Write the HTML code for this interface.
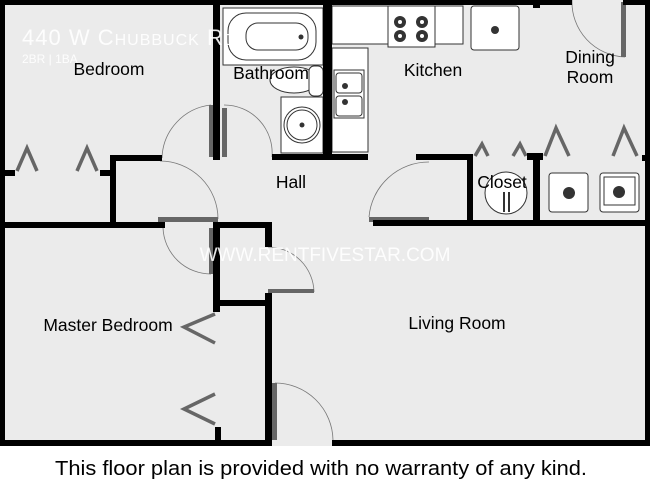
<!DOCTYPE html>
<html><head><meta charset="utf-8"><style>
html,body{margin:0;padding:0;background:#fff;}
svg{display:block;}
text{font-family:"Liberation Sans",Arial,sans-serif;}
</style></head><body>
<svg width="650" height="498" viewBox="0 0 650 498" xmlns="http://www.w3.org/2000/svg">
<rect x="0" y="0" width="650" height="446" fill="#ebebeb"/>
<rect x="0" y="446" width="650" height="52" fill="#fff"/>
<g stroke="#333" stroke-width="1" fill="#fff">
 <rect x="223" y="8" width="100" height="57"/>
 <rect x="228" y="13" width="88" height="47" rx="18"/>
 <rect x="246" y="23" width="62" height="27" rx="12"/>
 <ellipse cx="294" cy="80" rx="24" ry="13"/>
 <rect x="309" y="66" width="14" height="30" rx="5"/>
 <rect x="281" y="97" width="42" height="56"/>
 <circle cx="302" cy="125" r="18"/>
 <circle cx="302" cy="125" r="15"/>
 <rect x="332" y="6" width="131" height="38"/>
 <rect x="388" y="6" width="47" height="41"/>
 <rect x="471" y="6" width="48" height="44" rx="3"/>
 <rect x="332" y="48" width="36" height="104"/>
 <rect x="334" y="70" width="30" height="48"/>
 <rect x="336" y="73" width="26" height="20" rx="3"/>
 <rect x="336" y="96" width="26" height="20" rx="3"/>
 <rect x="549" y="173" width="39" height="39" rx="3"/>
 <rect x="600" y="173" width="39" height="39" rx="3"/>
 <rect x="604" y="177" width="31" height="28"/>
 <circle cx="506" cy="193" r="21"/>
</g>
<g fill="#333">
 <circle cx="400" cy="22" r="6"/><circle cx="422" cy="22" r="6"/>
 <circle cx="400" cy="36" r="6"/><circle cx="422" cy="36" r="6"/>
 <circle cx="495" cy="30" r="4"/>
 <circle cx="569" cy="193" r="6"/><circle cx="619" cy="192" r="6"/>
 <circle cx="345" cy="86" r="3"/><circle cx="345" cy="102" r="3"/>
 <circle cx="301" cy="37" r="2.5"/><circle cx="302" cy="125" r="2.5"/>
 <rect x="503" y="192" width="2" height="20"/><rect x="508" y="192" width="2" height="20"/>
</g>
<g fill="#fff"><circle cx="400" cy="22" r="2"/><circle cx="422" cy="22" r="2"/><circle cx="400" cy="36" r="2"/><circle cx="422" cy="36" r="2"/></g>
<g fill="none" stroke="#777" stroke-width="0.8">
 <path d="M162 158 A55 55 0 0 1 211 105"/>
 <path d="M224 105 A48 48 0 0 1 272 157"/>
 <path d="M218 219 A58 58 0 0 0 160 161"/>
 <path d="M163 228 A48 48 0 0 0 211 274"/>
 <path d="M314 292 A46 46 0 0 0 268 247"/>
 <path d="M333 440 A58 58 0 0 0 275 383"/>
 <path d="M369 217 A60 60 0 0 1 429 162"/>
 <path d="M572 0 A55 55 0 0 0 625 57"/>
</g>
<g fill="#666">
 <rect x="209" y="105" width="5" height="52"/>
 <rect x="222" y="108" width="5" height="49"/>
 <rect x="158" y="217" width="60" height="5"/>
 <rect x="209" y="228" width="5" height="46"/>
 <rect x="268" y="289" width="46" height="4"/>
 <rect x="272" y="383" width="5" height="57"/>
 <rect x="369" y="217" width="60" height="5"/>
 <rect x="621" y="2" width="5" height="55"/>
</g>
<g stroke="#666" stroke-width="3.5" fill="none">
 <path d="M17 171 L27 148 L37 171"/>
 <path d="M77 171 L87 148 L97 171"/>
 <path d="M475 156 L482 144 L488 156"/>
 <path d="M513 156 L520 144 L526 156"/>
 <path d="M545 156 L556 128 L569 156"/>
 <path d="M613 156 L624 128 L637 156"/>
 <path d="M215 314 L184 327 L215 343"/>
 <path d="M215 394 L184 409 L215 424"/>
</g>
<g fill="#000">
 <rect x="0" y="0" width="572" height="5"/>
 <rect x="623" y="0" width="27" height="5"/>
 <rect x="533" y="0" width="7" height="8"/>
 <rect x="0" y="0" width="5" height="446"/>
 <rect x="645" y="0" width="5" height="446"/>
 <rect x="213" y="0" width="7" height="160"/>
 <rect x="323" y="0" width="9" height="157"/>
 <rect x="0" y="170" width="15" height="6"/>
 <rect x="100" y="170" width="16" height="6"/>
 <rect x="110" y="155" width="52" height="6"/>
 <rect x="110" y="155" width="6" height="72"/>
 <rect x="272" y="154" width="96" height="6"/>
 <rect x="0" y="222" width="165" height="6"/>
 <rect x="213" y="222" width="59" height="6"/>
 <rect x="213" y="222" width="7" height="90"/>
 <rect x="265" y="222" width="7" height="25"/>
 <rect x="213" y="300" width="59" height="6"/>
 <rect x="265" y="293" width="7" height="153"/>
 <rect x="215" y="427" width="6" height="16"/>
 <rect x="0" y="440" width="272" height="6"/>
 <rect x="332" y="440" width="318" height="6"/>
 <rect x="416" y="154" width="57" height="6"/>
 <rect x="467" y="154" width="6" height="70"/>
 <rect x="373" y="220" width="277" height="6"/>
 <rect x="533" y="153" width="7" height="70"/>
 <rect x="527" y="153" width="16" height="7"/>
 <rect x="642" y="155" width="5" height="6"/>
</g>
<g font-size="17.5" fill="#000" text-anchor="middle">
 <text x="109" y="75">Bedroom</text>
 <text x="271" y="79">Bathroom</text>
 <text x="433" y="76">Kitchen</text>
 <text x="590" y="63">Dining</text>
 <text x="590" y="83">Room</text>
 <text x="291" y="188">Hall</text>
 <text x="502" y="188">Closet</text>
 <text x="108" y="331">Master Bedroom</text>
 <text x="457" y="329">Living Room</text>
</g>
<text x="22" y="45" font-size="22" fill="#fff" fill-opacity="0.9" letter-spacing="1">440 W C<tspan font-size="16">HUBBUCK</tspan> R<tspan font-size="16">D</tspan></text>
<text x="22" y="63" font-size="12" fill="#fff" fill-opacity="0.9">2BR | 1BA</text>
<text x="325" y="261" font-size="19" fill="#fff" fill-opacity="0.9" text-anchor="middle">WWW.RENTFIVESTAR.COM</text>
<text x="55" y="475" font-size="20" fill="#000" textLength="532" lengthAdjust="spacingAndGlyphs">This floor plan is provided with no warranty of any kind.</text>
</svg>
</body></html>
